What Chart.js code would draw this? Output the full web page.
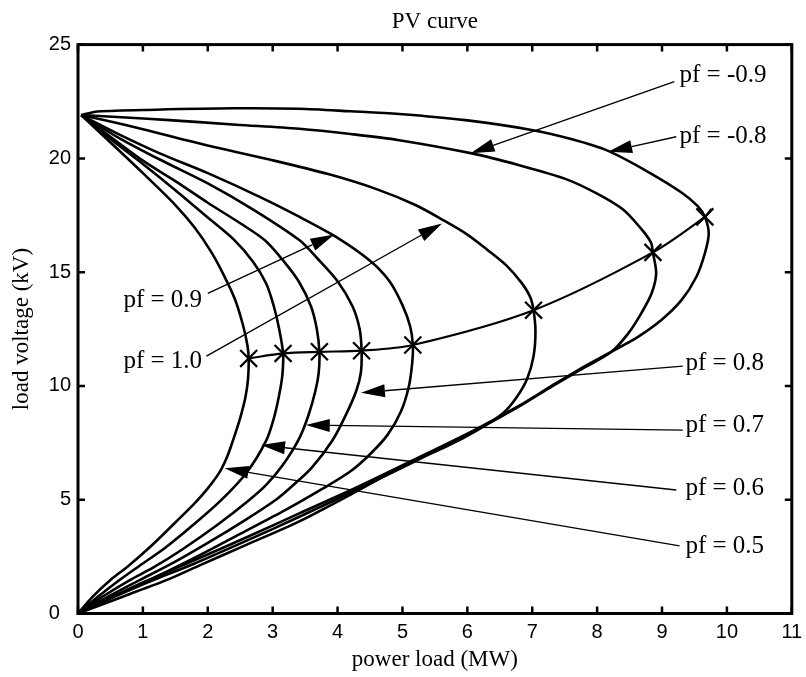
<!DOCTYPE html>
<html>
<head>
<meta charset="utf-8">
<title>PV curve</title>
<script src="https://cdn.jsdelivr.net/npm/chart.js@4.4.0/dist/chart.umd.min.js"></script>
<style>
  html, body { margin: 0; padding: 0; background: #fff; }
  #wrap { width: 806px; height: 677px; }
</style>
</head>
<body>
<div id="wrap"><canvas id="pvChart" width="806" height="677"></canvas></div>
<script>
// PV curves, one per power factor: [power load (MW), load voltage (kV)]
// traced from no load, along the upper branch, round the nose, down to zero
const curveNeg08 = [[0.05,21.9],[0.3,22.06],[1.2,22.14],[2.4,22.2],[3.4,22.18],[4.2,22.07],[4.95,21.95],[5.97,21.68],[6.99,21.25],[7.6,20.85],[8.17,20.33],[8.79,19.4],[9.3,18.5],[9.55,17.9],[9.66,17.43],[9.72,16.7],[9.66,15.83],[9.53,14.8],[9.3,13.77],[8.99,12.9],[8.63,12.16],[8.25,11.55],[7.78,10.82],[7.28,9.97],[6.78,9.1],[6.1,8.05],[5.1,6.65],[4.3,5.55],[3.41,4.4],[2.6,3.35],[1.8,2.35],[0.95,1.3],[0.4,0.55],[0,0]];
const curveNeg09 = [[0.05,21.9],[0.6,21.82],[1.41,21.68],[2.44,21.48],[3.41,21.3],[4.2,21.07],[4.95,20.8],[6.07,20.22],[6.8,19.7],[7.51,19.1],[8.0,18.45],[8.4,17.75],[8.68,16.9],[8.83,16.3],[8.86,15.85],[8.91,14.95],[8.84,14.07],[8.68,13.19],[8.48,12.31],[8.22,11.5],[7.8,10.8],[7.3,9.97],[6.8,9.1],[6.1,8.0],[5.1,6.55],[4.3,5.45],[3.41,4.25],[2.6,3.2],[1.8,2.2],[1.16,1.47],[0.55,0.72],[0,0]];
const curve10 = [[0.05,21.9],[0.5,21.62],[1.0,21.28],[1.92,20.62],[2.95,19.95],[3.87,19.3],[4.6,18.65],[5.2,17.95],[5.65,17.25],[6.0,16.65],[6.3,16.0],[6.6,15.3],[6.83,14.55],[6.97,13.9],[7.02,13.33],[7.05,12.4],[7.02,11.3],[6.92,10.3],[6.76,9.5],[6.55,8.8],[6.15,8.05],[5.65,7.3],[5.1,6.62],[4.28,5.35],[3.41,4.05],[2.54,2.95],[1.9,2.15],[1.41,1.52],[0.7,0.75],[0,0]];
const curve09 = [[0.05,21.9],[0.6,21.1],[1.26,20.22],[2.0,19.35],[2.8,18.31],[3.4,17.45],[3.97,16.56],[4.5,15.5],[4.8,14.6],[5.0,13.55],[5.12,12.6],[5.16,11.8],[5.15,11.0],[5.1,10.0],[4.98,8.9],[4.77,7.85],[4.5,7.0],[4.2,6.25],[3.75,5.45],[3.2,4.55],[2.5,3.5],[1.8,2.45],[1.16,1.55],[0.55,0.75],[0,0]];
const curve08 = [[0.05,21.9],[0.6,20.95],[1.26,19.95],[2.0,18.9],[2.7,17.75],[3.41,16.41],[3.69,15.6],[4.0,14.6],[4.23,13.5],[4.34,12.5],[4.37,11.55],[4.36,10.6],[4.29,9.8],[4.14,8.8],[3.92,7.6],[3.6,6.4],[3.3,5.6],[3.05,5.0],[2.6,4.15],[2.0,3.1],[1.45,2.2],[0.95,1.47],[0.45,0.72],[0,0]];
const curve07 = [[0.05,21.9],[0.5,20.95],[1.0,19.9],[1.5,19.0],[2.0,18.05],[2.5,17.15],[2.88,16.4],[3.15,15.55],[3.4,14.6],[3.59,13.5],[3.68,12.5],[3.72,11.5],[3.71,10.6],[3.66,9.8],[3.55,8.7],[3.41,7.7],[3.15,6.5],[2.9,5.65],[2.64,4.99],[2.15,3.9],[1.6,2.8],[1.15,2.0],[0.8,1.47],[0.4,0.78],[0,0]];
const curve06 = [[0.05,21.9],[0.5,20.85],[1.0,19.75],[1.5,18.6],[2.0,17.4],[2.41,16.41],[2.7,15.45],[2.9,14.5],[3.02,13.48],[3.1,12.5],[3.16,11.43],[3.15,10.5],[3.1,9.6],[3.02,8.6],[2.9,7.6],[2.6,6.2],[2.21,4.99],[1.8,3.95],[1.35,2.9],[0.95,2.1],[0.64,1.47],[0.3,0.72],[0,0]];
const curve05 = [[0.05,21.9],[0.5,20.7],[1.0,19.35],[1.5,17.95],[1.8,16.95],[2.05,15.9],[2.25,14.85],[2.42,13.8],[2.54,12.7],[2.61,11.8],[2.63,11.21],[2.62,10.3],[2.58,9.5],[2.5,8.6],[2.39,7.62],[2.3,6.9],[2.18,6.2],[2.0,5.5],[1.8,4.85],[1.5,4.0],[1.14,3.0],[0.78,2.1],[0.5,1.47],[0.22,0.72],[0,0]];

// maximum loadability points (the x marks), pf 0.5 ... -0.8, plus the tail of the locus line
const noseP = [2.63, 3.16, 3.72, 4.37, 5.16, 7.02, 8.86, 9.66, 9.76];
const noseV = [11.21, 11.43, 11.50, 11.55, 11.80, 13.33, 15.87, 17.43, 17.78];
const noseMarked = [true, true, true, true, true, true, true, true, false];

// axis ticks
const xTicks = [0, 1, 2, 3, 4, 5, 6, 7, 8, 9, 10, 11];
const yTicks = [0, 5, 10, 15, 20, 25];

// labels with arrows (all in data units)
const noteText = ['pf = -0.9', 'pf = -0.8', 'pf = 0.9', 'pf = 1.0', 'pf = 0.8', 'pf = 0.7', 'pf = 0.6', 'pf = 0.5'];
const noteTextAt = [[9.27,23.37],[9.27,20.69],[0.70,13.48],[0.70,10.80],[9.36,10.70],[9.36,7.99],[9.36,5.21],[9.36,2.64]];
const noteFrom = [[9.19,23.37],[9.22,20.95],[2.0,14.07],[1.98,11.31],[9.32,10.87],[9.32,8.06],[9.22,5.43],[9.27,2.97]];
const noteTip = [[6.05,20.22],[8.17,20.29],[3.95,16.65],[5.61,17.14],[4.36,9.70],[3.51,8.28],[2.82,7.40],[2.26,6.38]];

const curves = [curveNeg08, curveNeg09, curve10, curve09, curve08, curve07, curve06, curve05];

const serif = 'Liberation Serif';
const sans = 'Liberation Sans';

// box round the plot with inward ticks on all four sides
const framePlugin = {
    id: 'frame',
    afterDatasetsDraw(chart) {
        const { ctx, chartArea: a, scales: { x, y } } = chart;
        ctx.save();
        ctx.strokeStyle = '#000';
        ctx.lineWidth = 2.5;
        ctx.beginPath();
        xTicks.forEach(v => {
            const px = x.getPixelForValue(v);
            ctx.moveTo(px, a.bottom); ctx.lineTo(px, a.bottom - 7);
            ctx.moveTo(px, a.top); ctx.lineTo(px, a.top + 7);
        });
        yTicks.forEach(v => {
            const py = y.getPixelForValue(v);
            ctx.moveTo(a.left, py); ctx.lineTo(a.left + 7, py);
            ctx.moveTo(a.right, py); ctx.lineTo(a.right - 7, py);
        });
        ctx.stroke();
        ctx.lineWidth = 3;
        ctx.strokeRect(a.left, a.top, a.right - a.left, a.bottom - a.top);
        ctx.restore();
    }
};

// pf labels with their arrows
const notesPlugin = {
    id: 'notes',
    afterDatasetsDraw(chart) {
        const { ctx, scales: { x, y } } = chart;
        ctx.save();
        ctx.strokeStyle = '#000';
        ctx.fillStyle = '#000';
        ctx.lineWidth = 1.4;
        ctx.font = '25px "' + serif + '"';
        ctx.textAlign = 'left';
        ctx.textBaseline = 'alphabetic';
        noteText.forEach((t, i) => {
            const x0 = x.getPixelForValue(noteFrom[i][0]), y0 = y.getPixelForValue(noteFrom[i][1]);
            const x1 = x.getPixelForValue(noteTip[i][0]), y1 = y.getPixelForValue(noteTip[i][1]);
            const ang = Math.atan2(y1 - y0, x1 - x0);
            const len = 24, half = 6.5;
            const bx = x1 - len * Math.cos(ang), by = y1 - len * Math.sin(ang);
            ctx.beginPath();
            ctx.moveTo(x0, y0);
            ctx.lineTo(bx, by);
            ctx.stroke();
            ctx.beginPath();
            ctx.moveTo(x1, y1);
            ctx.lineTo(bx + half * Math.sin(ang), by - half * Math.cos(ang));
            ctx.lineTo(bx - half * Math.sin(ang), by + half * Math.cos(ang));
            ctx.closePath();
            ctx.fill();
            ctx.fillText(t, x.getPixelForValue(noteTextAt[i][0]), y.getPixelForValue(noteTextAt[i][1]));
        });
        ctx.restore();
    }
};

const datasets = curves.map(c => ({
    data: c.map(([p, v]) => ({ x: p, y: v })),
    showLine: true,
    borderColor: '#000',
    borderWidth: 2.6,
    pointRadius: 0,
    tension: 0.3
}));

datasets.push({
    data: noseP.map((p, i) => ({ x: p, y: noseV[i] })),
    showLine: true,
    borderColor: '#000',
    borderWidth: 2.2,
    pointStyle: 'crossRot',
    pointRadius: noseMarked.map(m => m ? 12 : 0),
    pointBorderWidth: 2.2,
    pointBorderColor: '#000',
    tension: 0.3
});

new Chart(document.getElementById('pvChart'), {
    type: 'scatter',
    data: { datasets },
    options: {
        responsive: false,
        animation: false,
        devicePixelRatio: 1,
        layout: { padding: { top: 0, left: 0, right: 0, bottom: 0 } },
        plugins: {
            legend: { display: false },
            tooltip: { enabled: false },
            title: {
                display: true,
                text: 'PV curve',
                color: '#000',
                fullSize: false,
                font: { family: serif, size: 23, weight: 'normal' },
                padding: { top: 8, bottom: 9 }
            }
        },
        scales: {
            x: {
                type: 'linear',
                min: 0,
                max: 11,
                afterBuildTicks: s => { s.ticks = xTicks.map(v => ({ value: v })); },
                afterFit: s => {
                    s.height = 63.5;
                    // only leave room for half of the last label, not the tick padding too
                    s.paddingRight = 11;
                    s.paddingLeft = 0;
                },
                grid: { display: false, drawTicks: false },
                border: { display: false },
                ticks: {
                    color: '#000',
                    font: { family: sans, size: 20 },
                    padding: 7,
                    maxRotation: 0,
                    autoSkip: false
                },
                title: {
                    display: true,
                    text: 'power load (MW)',
                    color: '#000',
                    font: { family: serif, size: 23 },
                    padding: { top: 0, bottom: 3 }
                }
            },
            y: {
                type: 'linear',
                min: 0,
                max: 25,
                afterBuildTicks: s => { s.ticks = yTicks.map(v => ({ value: v })); },
                afterFit: s => { s.width = 78; },
                grid: { display: false, drawTicks: false },
                border: { display: false },
                ticks: {
                    color: '#000',
                    font: { family: sans, size: 20 },
                    padding: 7,
                    // the 0 sits a little left, clear of the x axis 0
                    callback: v => v === 0 ? '0  ' : String(v)
                },
                title: {
                    display: true,
                    text: 'load voltage (kV)',
                    color: '#000',
                    font: { family: serif, size: 23 },
                    padding: { top: 8, bottom: 0 }
                }
            }
        }
    },
    plugins: [framePlugin, notesPlugin]
});
</script>
</body>
</html>
